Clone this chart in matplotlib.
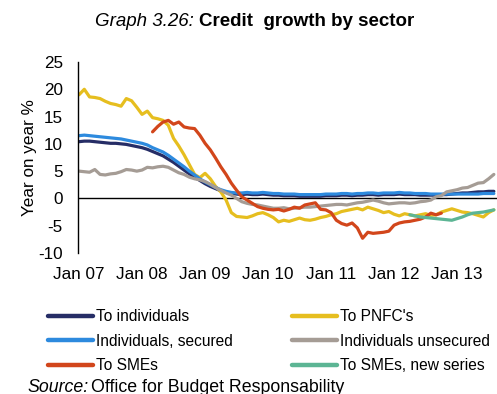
import numpy as np
import matplotlib
matplotlib.use('Agg')
import matplotlib.pyplot as plt

plt.rcParams['font.family'] = ['Liberation Sans', 'DejaVu Sans']
plt.rcParams['axes.unicode_minus'] = False

# monthly year-on-year growth, Jan 2007 onwards
START_YEAR = 2007
TICK_LABELS = ['Jan 07', 'Jan 08', 'Jan 09', 'Jan 10', 'Jan 11', 'Jan 12', 'Jan 13']

TO_INDIVIDUALS = [
    10.4, 10.5, 10.5, 10.4, 10.3, 10.2, 10.1, 10.1, 10.0, 9.9, 9.7, 9.5,
    9.3, 9.0, 8.6, 8.2, 7.8, 7.2, 6.6, 5.9, 5.2, 4.5, 3.9, 3.3,
    2.7, 2.2, 1.8, 1.4, 1.1, 0.9, 0.8, 0.7, 0.8, 0.7, 0.7, 0.8,
    0.7, 0.6, 0.6, 0.5, 0.5, 0.5, 0.4, 0.4, 0.4, 0.4, 0.4, 0.5,
    0.5, 0.5, 0.6, 0.6, 0.5, 0.6, 0.6, 0.7, 0.7, 0.6, 0.7, 0.7,
    0.7, 0.8, 0.7, 0.7, 0.7, 0.6, 0.6, 0.6, 0.6, 0.7, 0.7, 0.8,
    0.9, 1.0, 1.0, 1.1, 1.2, 1.2, 1.3, 1.3,
]

TO_PNFC = [
    19.0, 20.0, 18.6, 18.5, 18.3, 17.8, 17.4, 17.2, 16.9, 18.3, 17.9, 16.7,
    15.4, 16.0, 14.8, 14.6, 14.3, 13.4, 11.0, 9.6, 8.0, 6.2, 4.4, 3.8,
    4.6, 3.6, 2.2, 1.2, -0.3, -2.6, -3.3, -3.4, -3.5, -3.2, -2.8, -2.6,
    -3.0, -3.5, -4.3, -4.0, -4.2, -3.9, -3.6, -3.9, -4.0, -3.8, -3.5, -3.3,
    -3.0, -2.8, -2.4, -2.2, -2.0, -1.8, -2.1, -1.6, -1.9, -2.2, -2.6, -2.4,
    -2.9, -3.2, -2.8, -3.0, -3.2, -3.0, -2.8, -3.1, -3.0, -2.5, -2.2, -1.9,
    -2.2, -2.5, -2.6, -2.8, -3.1, -3.4, -2.6, -2.1,
]

SECURED = [
    11.5, 11.6, 11.5, 11.4, 11.3, 11.2, 11.1, 11.0, 10.9, 10.7, 10.5, 10.3,
    10.1, 9.8, 9.3, 8.9, 8.5, 7.9, 7.2, 6.5, 5.8, 5.0, 4.3, 3.6,
    3.0, 2.5, 2.0, 1.6, 1.3, 1.1, 1.0, 1.0, 1.1, 1.0, 1.0, 1.1,
    1.0, 0.9, 0.9, 0.8, 0.8, 0.8, 0.7, 0.7, 0.7, 0.7, 0.7, 0.8,
    0.8, 0.8, 0.9, 0.9, 0.8, 0.9, 0.9, 1.0, 1.0, 0.9, 1.0, 1.0,
    1.0, 1.1, 1.0, 1.0, 0.9, 0.9, 0.9, 0.8, 0.8, 0.8, 0.8, 0.8,
    0.8, 0.8, 0.8, 0.8, 0.8, 0.9, 0.9, 0.9,
]

UNSECURED = [
    5.0, 4.9, 4.8, 5.3, 4.4, 4.3, 4.5, 4.6, 4.9, 5.3, 5.2, 5.0,
    5.2, 5.7, 5.6, 5.8, 5.9, 5.7, 5.2, 4.7, 4.4, 3.9, 3.6, 3.4,
    3.1, 2.6, 2.0, 1.5, 1.0, 0.6, 0.0, -0.6, -0.9, -1.1, -1.2, -1.4,
    -1.6, -1.8, -1.8, -1.7, -1.9, -1.8, -1.7, -1.6, -1.6, -1.5, -1.4, -1.3,
    -1.2, -1.1, -1.1, -1.2, -1.0, -0.8, -0.7, -0.5, -0.3, -0.5, -0.8, -1.0,
    -0.9, -0.8, -0.8, -0.9, -0.8, -0.6, -0.5, -0.3, 0.3, 0.5, 1.2, 1.4,
    1.6, 1.9, 2.0, 2.4, 2.8, 2.9, 3.6, 4.4,
]

# SME series begins Mar 08
SME_START = 14
TO_SMES = [
    12.2, 13.2, 14.0, 14.3, 13.6, 14.0, 13.1, 12.9, 12.8, 11.6, 10.1, 8.9,
    7.4, 5.8, 4.4, 2.8, 1.5, 0.3, -0.3, -0.9, -1.5, -1.8, -2.0, -2.1,
    -2.0, -2.3, -2.0, -1.6, -1.8, -1.2, -1.0, -0.8, -2.0, -2.1, -2.6, -4.0,
    -4.6, -4.9, -4.5, -5.4, -7.3, -6.2, -6.4, -6.3, -6.2, -6.0, -4.9, -4.5,
    -4.3, -4.2, -4.0, -3.8, -3.4, -2.7, -3.0, -2.7,
]

# new SME series begins Apr 12
SME_NEW_START = 63
TO_SMES_NEW = [
    -3.0, -3.2, -3.4, -3.5, -3.6, -3.7, -3.8, -3.9, -4.0, -3.7, -3.4, -3.0,
    -2.7, -2.6, -2.5, -2.3, -2.1,
]

series = [
    ('To individuals', TO_INDIVIDUALS, 0, '#262d66'),
    ("To PNFC's", TO_PNFC, 0, '#e6be1f'),
    ('Individuals, secured', SECURED, 0, '#2d8ade'),
    ('Individuals unsecured', UNSECURED, 0, '#a59c95'),
    ('To SMEs', TO_SMES, SME_START, '#d2461b'),
    ('To SMEs, new series', TO_SMES_NEW, SME_NEW_START, '#5cb594'),
]

W, H = 497, 394
fig = plt.figure(figsize=(W / 100, H / 100), dpi=100)
ax = fig.add_axes([78 / W, 1 - 253 / H, 1 - 78 / W, (253 - 62) / H])

lines = {}
for name, values, start, color in series:
    x = start + np.arange(len(values))
    ln, = ax.plot(x, values, color=color, lw=2.3, solid_capstyle='round', label=name)
    lines[name] = ln

ax.axhline(0, color='black', lw=1.0, zorder=1)

ax.set_xlim(-0.2, 79.6)
ax.set_ylim(-10, 25)
ax.set_yticks(np.arange(-10, 26, 5))
ax.set_xticks(np.arange(len(TICK_LABELS)) * 12)
ax.set_xticklabels(TICK_LABELS)

for side in ['top', 'right', 'bottom']:
    ax.spines[side].set_visible(False)
ax.spines['left'].set_linewidth(1.0)
ax.tick_params(axis='y', length=0, pad=11, labelsize=12.3)
ax.tick_params(axis='x', length=0, pad=10, labelsize=12.3)
ax.set_ylabel('Year on year %', fontsize=12.3, labelpad=1)

# title: italic prefix + bold caption
fig.text(194 / W, 1 - 22 / H, 'Graph 3.26:', fontsize=13.5, style='italic',
         ha='right', va='center')
fig.text(199 / W, 1 - 22 / H, 'Credit  growth by sector', fontsize=13.5,
         fontweight='bold', ha='left', va='center')

# legend fills column by column, so list the left column first
order = ['To individuals', 'Individuals, secured', 'To SMEs',
         "To PNFC's", 'Individuals unsecured', 'To SMEs, new series']
leg = fig.legend([lines[k] for k in order], order, ncol=2, loc='upper left',
                 bbox_to_anchor=(48 / W, 1 - 309 / H), frameon=False,
                 fontsize=11.2, handlelength=2.9, handletextpad=0.2,
                 columnspacing=3.8, labelspacing=0.62, borderpad=0,
                 borderaxespad=0)
for h in leg.get_lines():
    h.set_linewidth(3.2)

fig.text(28 / W, 1 - 387 / H, 'Source:', fontsize=12.8, style='italic',
         ha='left', va='center')
fig.text(91 / W, 1 - 387 / H, 'Office for Budget Responsability', fontsize=12.8,
         ha='left', va='center')

fig.savefig('out.png', dpi=100)
